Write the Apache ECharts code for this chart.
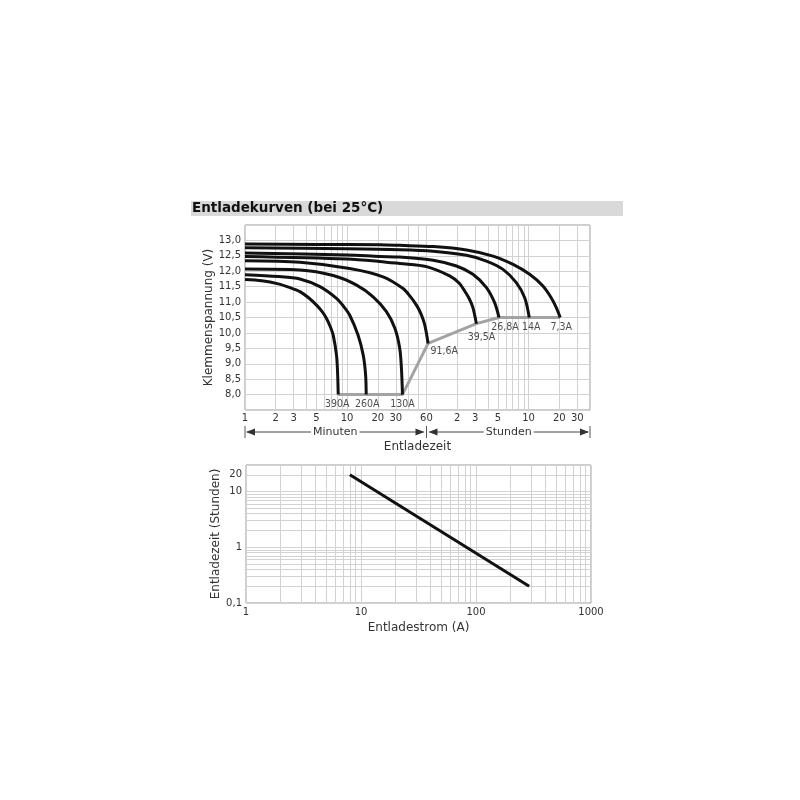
<!DOCTYPE html>
<html>
<head>
<meta charset="utf-8">
<script src="https://cdn.jsdelivr.net/npm/echarts@6/dist/echarts.min.js"></script>
<style>
  html, body { margin: 0; padding: 0; background: #fff; }
  #main { width: 800px; height: 800px; }
</style>
</head>
<body>
<div id="main"></div>
<script>
// Entladekurven: Zeit in Minuten, Spannung in Volt
var curve390A = [[1, 11.73], [1.46, 11.69], [2.12, 11.59], [2.8, 11.46], [3.45, 11.34], [4.2, 11.14], [5.02, 10.90], [5.7, 10.69], [6.29, 10.47], [6.85, 10.2], [7.31, 9.93], [7.88, 9.28], [8.07, 8.74], [8.19, 8.0]];
var curve260A = [[1, 11.89], [2.12, 11.83], [3.45, 11.75], [5.42, 11.50], [7.88, 11.12], [9.3, 10.85], [10.6, 10.58], [12.8, 9.93], [14.4, 9.28], [15.2, 8.63], [15.4, 8.0]];
var curve130A = [[1, 12.07], [3.45, 12.04], [7.31, 11.86], [12.4, 11.55], [18.0, 11.17], [24.3, 10.69], [29.4, 10.15], [32.8, 9.50], [34.1, 8.85], [34.9, 8.0]];
var curve91A = [[1, 12.34], [3.45, 12.29], [10.6, 12.09], [22.5, 11.82], [35.4, 11.44], [41.2, 11.2], [47.8, 10.90], [53, 10.62], [57.7, 10.26], [62.2, 9.66]];
var curve39A = [[1, 12.48], [10, 12.40], [20.9, 12.32], [32.9, 12.25], [60, 12.15], [101, 11.85], [125, 11.62], [142, 11.36], [158, 11.1], [171, 10.82], [185, 10.3]];
var curve26A = [[1, 12.59], [10, 12.53], [20.9, 12.48], [32.9, 12.46], [69.7, 12.36], [118, 12.17], [171, 11.90], [232, 11.47], [279, 10.98], [308, 10.5]];
var curve14A = [[1, 12.76], [10, 12.73], [32.9, 12.70], [69.7, 12.65], [148, 12.52], [232, 12.33], [337, 12.06], [455, 11.63], [550, 11.14], [610, 10.5]];
var curve7A = [[1, 12.88], [5, 12.87], [20.9, 12.86], [32.9, 12.84], [69.7, 12.80], [148, 12.69], [269, 12.49], [423, 12.22], [615, 11.90], [830, 11.52], [1000, 11.14], [1122, 10.82], [1225, 10.5]];
// Entladeschlussspannung (graue Linie)
var cutoffLine = [[8.19, 8.0], [34.9, 8.0], [62.2, 9.66], [185, 10.3], [308, 10.5], [1225, 10.5]];

var minuteGrid = [1, 2, 3, 4, 5, 6, 7, 8, 9, 10, 20, 30, 40, 50, 60, 120, 180, 240, 300, 360, 420, 480, 540, 600, 1200, 1800, 2400];
var minuteLabels = [1, 2, 3, 5, 10, 20, 30, 60, 120, 180, 300, 600, 1200, 1800];

// Entladezeit (Stunden) gegen Entladestrom (A)
var currentPoints = [8, 290];
var hourPoints = [20, 0.2];
var ampGrid = [1, 2, 3, 4, 5, 6, 7, 8, 9, 10, 20, 30, 40, 50, 60, 70, 80, 90, 100, 200, 300, 400, 500, 600, 700, 800, 900, 1000];
var ampLabels = [1, 10, 100, 1000];
var hourGrid = [0.1, 0.2, 0.3, 0.4, 0.5, 0.6, 0.7, 0.8, 0.9, 1, 2, 3, 4, 5, 6, 7, 8, 9, 10, 20, 30];
var hourLabels = [0.1, 1, 10, 20];

var textColor = '#333';
var gridColor = '#d2d2d2';
var font = 'DejaVu Sans';
var narrow = "'Liberation Sans Narrow', 'DejaVu Sans Condensed', sans-serif";

function comma(v) {
    return String(v).replace('.', ',');
}

var curves = [
    { name: '390A', data: curve390A, label: { position: 'bottom', distance: 4, offset: [-1, 0] } },
    { name: '260A', data: curve260A, label: { position: 'bottom', distance: 4, offset: [1, 0] } },
    { name: '130A', data: curve130A, label: { position: 'bottom', distance: 4, offset: [0, 0] } },
    { name: '91,6A', data: curve91A, label: { position: 'right', distance: 2, offset: [0, 8] } },
    { name: '39,5A', data: curve39A, label: { position: 'bottom', distance: 5, offset: [5, 3] } },
    { name: '26,8A', data: curve26A, label: { position: 'bottom', distance: 4, offset: [6, 0] } },
    { name: '14A', data: curve14A, label: { position: 'bottom', distance: 4, offset: [2, 0] } },
    { name: '7,3A', data: curve7A, label: { position: 'bottom', distance: 4, offset: [1, 0] } }
];

var series = [{
    type: 'line',
    name: 'cutoff',
    xAxisIndex: 0, yAxisIndex: 0,
    data: cutoffLine,
    showSymbol: false,
    lineStyle: { color: '#a3a3a3', width: 3 },
    z: 2
}];

for (var i = 0; i < curves.length; i++) {
    series.push({
        type: 'line',
        name: curves[i].name,
        xAxisIndex: 0, yAxisIndex: 0,
        data: curves[i].data,
        showSymbol: false,
        smooth: 0.3,
        lineStyle: { color: '#111', width: 3, join: 'round' },
        z: 3
    });
}

series.push({
    type: 'scatter',
    name: 'labels',
    xAxisIndex: 0, yAxisIndex: 0,
    symbolSize: 1,
    itemStyle: { color: 'rgba(0,0,0,0)' },
    data: curves.map(function(c) {
        var last = c.data[c.data.length - 1];
        return {
            value: last,
            label: {
                show: true,
                formatter: c.name,
                position: c.label.position,
                distance: c.label.distance,
                offset: c.label.offset,
                color: '#222',
                fontSize: 10.5,
                fontFamily: narrow
            }
        };
    }),
    z: 4
});

series.push({
    type: 'line',
    name: 'Entladezeit',
    xAxisIndex: 1, yAxisIndex: 1,
    data: currentPoints.map(function(a, k) { return [a, hourPoints[k]]; }),
    showSymbol: false,
    lineStyle: { color: '#111', width: 3 }
});

var option = {
    animation: false,
    backgroundColor: '#fff',
    grid: [
        { left: 245, right: 210, top: 225, bottom: 390, show: true, borderColor: '#9a9a9a', borderWidth: 1 },
        { left: 246, right: 209, top: 465, bottom: 197, show: true, borderColor: '#9a9a9a', borderWidth: 1 }
    ],
    xAxis: [{
        gridIndex: 0,
        type: 'log',
        logBase: 10,
        min: 1,
        max: 2400,
        name: 'Entladezeit',
        nameLocation: 'middle',
        nameGap: 31,
        nameTextStyle: { color: textColor, fontSize: 12, fontFamily: font },
        axisLine: { show: false },
        axisTick: { show: false, customValues: minuteGrid },
        axisLabel: {
            customValues: minuteLabels,
            margin: 3,
            color: textColor,
            fontSize: 10,
            fontFamily: font,
            formatter: function(v) { return v > 60 ? String(Math.round(v / 60)) : String(v); }
        },
        splitLine: { show: true, lineStyle: { color: gridColor, width: 1 } }
    }, {
        gridIndex: 1,
        type: 'log',
        logBase: 10,
        min: 1,
        max: 1000,
        name: 'Entladestrom (A)',
        nameLocation: 'middle',
        nameGap: 19,
        nameTextStyle: { color: textColor, fontSize: 12, fontFamily: font },
        axisLine: { show: false },
        axisTick: { show: false, customValues: ampGrid },
        axisLabel: {
            customValues: ampLabels, margin: 4, color: textColor, fontSize: 10, fontFamily: font,
            formatter: function(v) { return String(Math.round(v)); }
        },
        splitLine: { show: true, lineStyle: { color: gridColor, width: 1 } }
    }],
    yAxis: [{
        gridIndex: 0,
        type: 'value',
        min: 7.5,
        max: 13.5,
        interval: 0.5,
        name: 'Klemmenspannung (V)',
        nameLocation: 'middle',
        nameGap: 29,
        nameTextStyle: { color: textColor, fontSize: 12, fontFamily: font },
        axisLine: { show: false },
        axisTick: { show: false },
        axisLabel: {
            margin: 4,
            color: textColor,
            fontSize: 10,
            fontFamily: font,
            formatter: function(v) {
                if (v < 7.9 || v > 13.1) return '';
                return v.toFixed(1).replace('.', ',');
            }
        },
        splitLine: { show: true, lineStyle: { color: gridColor, width: 1 } }
    }, {
        gridIndex: 1,
        type: 'log',
        logBase: 10,
        min: 0.1,
        max: 30,
        name: 'Entladezeit (Stunden)',
        nameLocation: 'middle',
        nameGap: 19,
        nameTextStyle: { color: textColor, fontSize: 12, fontFamily: font },
        axisLine: { show: false },
        axisTick: { show: false, customValues: hourGrid },
        axisLabel: { customValues: hourLabels, margin: 4, color: textColor, fontSize: 10, fontFamily: font, formatter: comma },
        splitLine: { show: true, lineStyle: { color: gridColor, width: 1 } }
    }],
    graphic: [
        { type: 'rect', shape: { x: 191, y: 201, width: 432, height: 15 }, style: { fill: '#d9d9d9' }, silent: true },
        { type: 'text', x: 192, y: 208.5, style: { text: 'Entladekurven (bei 25°C)', font: 'bold 13.5px DejaVu Sans', fill: '#111', verticalAlign: 'middle' }, silent: true }
    ],
    series: series
};

var chart = echarts.init(document.getElementById('main'));
chart.setOption(option);

// Pfeile "Minuten" / "Stunden" unter der Zeitachse
var ay = 432;
var xa = chart.convertToPixel({ xAxisIndex: 0 }, 1);
var xb = chart.convertToPixel({ xAxisIndex: 0 }, 60);
var xc = chart.convertToPixel({ xAxisIndex: 0 }, 2400);

function arrow(x, dir) {
    return {
        type: 'polygon',
        shape: { points: [[x, ay], [x + dir * 9, ay - 3.5], [x + dir * 9, ay + 3.5]] },
        style: { fill: '#333' },
        silent: true
    };
}
function bar(x) {
    return { type: 'line', shape: { x1: x, y1: ay - 6, x2: x, y2: ay + 6 }, style: { stroke: '#555', lineWidth: 1 }, silent: true };
}
function span(x1, x2, txt) {
    return [
        { type: 'line', shape: { x1: x1 + 2, y1: ay, x2: x2 - 2, y2: ay }, style: { stroke: '#444', lineWidth: 1 }, silent: true },
        arrow(x1 + 1, 1),
        arrow(x2 - 1, -1),
        {
            type: 'text', x: (x1 + x2) / 2, y: ay,
            style: { text: txt, font: '11px DejaVu Sans', fill: textColor, align: 'center', verticalAlign: 'middle', backgroundColor: '#fff', padding: [0, 2] },
            silent: true, z: 10
        }
    ];
}

var extra = [].concat(span(xa, xb - 1, 'Minuten'), span(xb + 1, xc, 'Stunden'), [bar(xa), bar(xb), bar(xc)]);
chart.setOption({ graphic: option.graphic.concat(extra) });
</script>
</body>
</html>
